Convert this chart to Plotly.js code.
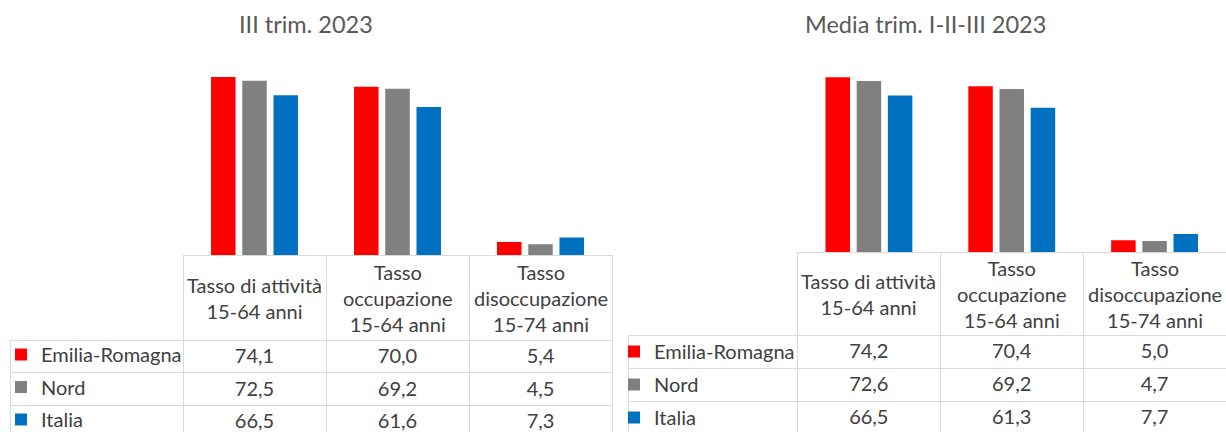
<!DOCTYPE html>
<html>
<head>
<meta charset="utf-8">
<script src="https://cdn.plot.ly/plotly-3.0.1.min.js"></script>
<style>
html,body{margin:0;padding:0;background:#ffffff;overflow:hidden}
#chart .scrollbar-kit{display:none}
</style>
</head>
<body>
<div id="chart" style="width:1226px;height:432px"></div>
<script>
// ---- data ----
const headerLabels = ['Tasso di attività<br>15-64 anni', 'Tasso<br>occupazione<br>15-64 anni', 'Tasso<br>disoccupazione<br>15-74 anni'];
const categories = headerLabels.map(s => s.replace(/<br>/g, ' '));
const series = ['Emilia-Romagna', 'Nord', 'Italia'];
const colors = ['#FF0000', '#808080', '#0070C0'];
const panelTitles = ['III trim. 2023', 'Media trim. I-II-III 2023'];
// III trimestre 2023
const q3EmiliaRomagna = [74.1, 70.0, 5.4];
const q3Nord = [72.5, 69.2, 4.5];
const q3Italia = [66.5, 61.6, 7.3];
// Media trimestri I-II-III 2023
const avgEmiliaRomagna = [74.2, 70.4, 5.0];
const avgNord = [72.6, 69.2, 4.7];
const avgItalia = [66.5, 61.3, 7.7];

// ---- layout constants ----
const W = 1226, H = 432;
const FONT = 'Lato, "Noto Sans", sans-serif';
const TXT = '#404040';
const GRID = '#d9d9d9';
const px = v => v / W;
const py = v => (H - v) / H;

const panels = [
  {values: [q3EmiliaRomagna, q3Nord, q3Italia], xa: 'x', ya: 'y', legend: 'legend',
   plotL: 183, plotR: 612, tableL: 10, legendL: 1, legendUp: 5, base: 255, top: 62.8, headH: 85, rowH: 32.5,
   titleX: 305.5, titleY: 24},
  {values: [avgEmiliaRomagna, avgNord, avgItalia], xa: 'x2', ya: 'y2', legend: 'legend2',
   plotL: 797.5, plotR: 1226.5, tableL: 628, legendL: 614, legendUp: 3, base: 252, top: 63.7, headH: 83, rowH: 33,
   titleX: 925, titleY: 24.5}
];

const fmt = v => v.toFixed(1).replace('.', ',');

const data = [];
const annotations = [];
panels.forEach((p, k) => {
  series.forEach((s, i) => {
    data.push({
      type: 'bar', x: categories, y: p.values[i], name: s,
      xaxis: p.xa, yaxis: p.ya, legend: p.legend, legendgroup: s,
      marker: {color: colors[i]}, hoverinfo: 'name+y'
    });
  });
  const colW = (p.plotR - p.plotL) / 3;
  data.push({
    type: 'table',
    domain: {x: [px(p.tableL), Math.min(1, px(p.plotR))], y: [0, py(p.base)]},
    columnwidth: [p.plotL - p.tableL, colW, colW, colW],
    header: {
      values: ['', '', '', ''],
      height: p.headH,
      fill: {color: '#ffffff'},
      line: {color: ['rgba(0,0,0,0)', GRID, GRID, GRID], width: 1},
      font: {family: FONT, size: 20, color: TXT}
    },
    cells: {
      values: [series.map(() => '')].concat(categories.map((c, j) => p.values.map(v => fmt(v[j])))),
      height: p.rowH,
      align: ['left', 'center', 'center', 'center'],
      fill: {color: '#ffffff'},
      line: {color: GRID, width: 1},
      font: {family: FONT, size: 20, color: TXT}
    }
  });
  headerLabels.forEach((h, j) => {
    annotations.push({
      xref: p.xa, yref: 'paper', x: j, y: py(p.base + p.headH / 2),
      text: h, showarrow: false, xanchor: 'center', yanchor: 'middle',
      font: {family: FONT, size: 20, color: TXT}
    });
  });
  annotations.push({
    xref: 'paper', yref: 'paper', x: px(p.titleX), y: py(p.titleY),
    text: panelTitles[k], showarrow: false, xanchor: 'center', yanchor: 'middle',
    font: {family: FONT, size: 23.5, color: '#595959'}
  });
});

const axisX = (p) => ({
  domain: [px(p.plotL), Math.min(1, px(p.plotR))], anchor: p.ya,
  showticklabels: false, showgrid: false, zeroline: false, showline: false, ticks: ''
});
const axisY = (p) => ({
  domain: [py(p.base), py(p.top)], anchor: p.xa, range: [0, 80],
  visible: false, showgrid: false, zeroline: false
});
const legendOf = (p) => ({
  x: px(p.legendL), xanchor: 'left', y: py(p.base + p.headH - p.legendUp), yanchor: 'top',
  bgcolor: 'rgba(0,0,0,0)', borderwidth: 0,
  traceorder: 'grouped', tracegroupgap: p.rowH - 29,
  font: {family: FONT, size: 20, color: TXT}
});

const layout = {
  width: W, height: H,
  margin: {l: 0, r: 0, t: 0, b: 0, autoexpand: false},
  paper_bgcolor: '#ffffff', plot_bgcolor: 'rgba(0,0,0,0)',
  font: {family: FONT, color: TXT},
  barmode: 'group', bargap: 0.345, bargroupgap: 0.215,
  showlegend: true,
  xaxis: axisX(panels[0]), yaxis: axisY(panels[0]),
  xaxis2: axisX(panels[1]), yaxis2: axisY(panels[1]),
  legend: legendOf(panels[0]), legend2: legendOf(panels[1]),
  annotations: annotations
};

Plotly.newPlot('chart', data, layout, {displayModeBar: false, responsive: false});
</script>
</body>
</html>
